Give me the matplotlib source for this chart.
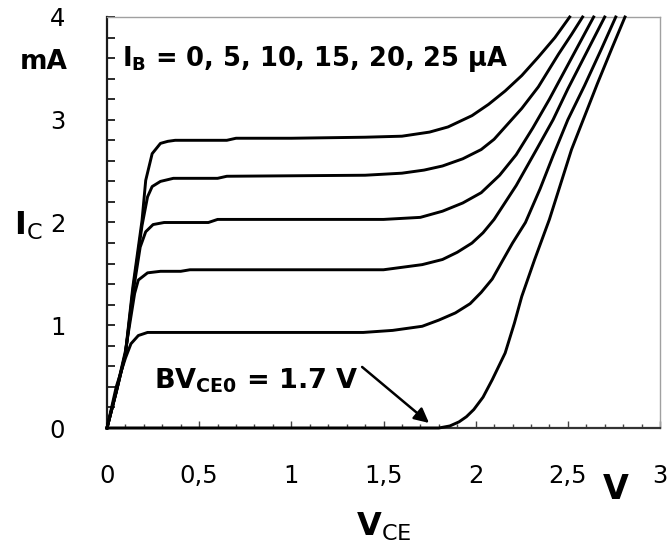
import matplotlib.pyplot as plt
from matplotlib.ticker import MultipleLocator, FixedLocator, FixedFormatter

# output characteristics I_C(V_CE), one curve per base current (uA)
ib_values = [0, 5, 10, 15, 20, 25]

vce_ib0 = [0, 1.75, 1.80, 1.86, 1.91, 1.95, 1.99, 2.04, 2.09, 2.16, 2.21, 2.25, 2.32,
           2.40, 2.46, 2.52, 2.59, 2.66, 2.74, 2.81]
ic_ib0 = [0, 0, 0.0, 0.02, 0.06, 0.11, 0.18, 0.30, 0.47, 0.73, 1.02, 1.28, 1.64,
          2.03, 2.37, 2.71, 3.03, 3.35, 3.70, 4.0]

vce_ib5 = [0, 0.05, 0.10, 0.13, 0.17, 0.22, 0.40, 1.39, 1.55, 1.71, 1.80, 1.89, 1.97,
           2.03, 2.09, 2.14, 2.20, 2.27, 2.35, 2.42, 2.50, 2.59, 2.68, 2.76]
ic_ib5 = [0, 0.40, 0.68, 0.82, 0.90, 0.93, 0.93, 0.93, 0.95, 0.99, 1.05, 1.12, 1.21,
          1.32, 1.45, 1.61, 1.80, 2.00, 2.33, 2.65, 3.00, 3.33, 3.68, 4.0]

vce_ib10 = [0, 0.05, 0.10, 0.15, 0.17, 0.22, 0.29, 0.40, 0.45, 1.50, 1.71, 1.82, 1.90,
            1.98, 2.04, 2.10, 2.22, 2.33, 2.42, 2.50, 2.60, 2.70]
ic_ib10 = [0, 0.36, 0.75, 1.31, 1.44, 1.51, 1.525, 1.525, 1.54, 1.54, 1.59, 1.64, 1.71,
           1.80, 1.90, 2.03, 2.36, 2.71, 3.00, 3.30, 3.65, 4.0]

vce_ib15 = [0, 0.05, 0.10, 0.14, 0.18, 0.21, 0.25, 0.31, 0.55, 0.60, 1.50, 1.70, 1.82,
            1.93, 2.03, 2.13, 2.22, 2.31, 2.40, 2.52, 2.64]
ic_ib15 = [0, 0.35, 0.72, 1.30, 1.76, 1.91, 1.98, 2.00, 2.00, 2.03, 2.03, 2.05, 2.11,
           2.19, 2.29, 2.46, 2.66, 2.92, 3.20, 3.60, 4.0]

vce_ib20 = [0, 0.05, 0.10, 0.14, 0.19, 0.22, 0.245, 0.29, 0.36, 0.60, 0.65, 1.40,
            1.60, 1.72, 1.82, 1.93, 2.03, 2.10, 2.16, 2.25, 2.34, 2.45, 2.52, 2.58]
ic_ib20 = [0, 0.35, 0.72, 1.33, 1.97, 2.25, 2.35, 2.40, 2.43, 2.43, 2.45, 2.46,
           2.48, 2.51, 2.55, 2.62, 2.71, 2.81, 2.93, 3.11, 3.32, 3.64, 3.83, 4.0]

vce_ib25 = [0, 0.05, 0.10, 0.14, 0.19, 0.21, 0.245, 0.29, 0.33, 0.37, 0.65, 0.70, 1.0,
            1.40, 1.60, 1.75, 1.85, 1.98, 2.07, 2.16, 2.25, 2.34, 2.43, 2.51]
ic_ib25 = [0, 0.35, 0.73, 1.37, 2.02, 2.41, 2.67, 2.77, 2.79, 2.80, 2.80, 2.82, 2.82,
           2.83, 2.84, 2.88, 2.93, 3.04, 3.15, 3.28, 3.43, 3.61, 3.80, 4.0]

x_ticks = [0, 0.5, 1, 1.5, 2, 2.5, 3]
x_tick_labels = ["0", "0,5", "1", "1,5", "2", "2,5", "3"]
y_ticks = [0, 1, 2, 3, 4]

curves = [(vce_ib0, ic_ib0), (vce_ib5, ic_ib5), (vce_ib10, ic_ib10),
          (vce_ib15, ic_ib15), (vce_ib20, ic_ib20), (vce_ib25, ic_ib25)]

fig = plt.figure(figsize=(6.72, 5.49), dpi=100)
ax = fig.add_axes([107 / 672, 121 / 549, 553 / 672, 411 / 549])

for v, i in curves:
    ax.plot(v, i, color="black", lw=2.1, solid_joinstyle="round", clip_on=False, zorder=3)

ax.set_xlim(0, 3)
ax.set_ylim(0, 4)

# frame: dark left/bottom, light grey top/right
ax.spines["left"].set_color("#1a1a1a")
ax.spines["left"].set_linewidth(1.6)
ax.spines["bottom"].set_color("#333333")
ax.spines["bottom"].set_linewidth(1.6)
for s in ["top", "right"]:
    ax.spines[s].set_color("#a0a0a0")
    ax.spines[s].set_linewidth(1.0)

ax.xaxis.set_major_locator(FixedLocator(x_ticks))
ax.xaxis.set_major_formatter(FixedFormatter(x_tick_labels))
ax.xaxis.set_minor_locator(MultipleLocator(0.1))
ax.yaxis.set_major_locator(FixedLocator(y_ticks))
ax.yaxis.set_minor_locator(MultipleLocator(0.2))

ax.tick_params(axis="x", which="major", direction="in", length=5, width=1.0,
               color="#444444", pad=26, labelsize=17.5)
ax.tick_params(axis="x", which="minor", direction="in", length=3, width=1.0, color="#444444")
ax.tick_params(axis="y", which="both", direction="in", length=6, width=1.3,
               color="#1a1a1a", pad=30, labelsize=17.5)

# axis labels / units
ax.text(-0.342, 3.56, "mA", fontsize=19, fontweight="bold", ha="center", va="center",
        clip_on=False)
ax.text(-0.505, 1.878, r"$\mathbf{I}_{\mathrm{C}}$", fontsize=23, ha="left",
        va="baseline", clip_on=False)
ax.text(2.762, -0.603, "V", fontsize=24, fontweight="bold", ha="center", va="center",
        clip_on=False)
ax.text(1.351, -1.05, r"$\mathbf{V}_{\mathrm{CE}}$", fontsize=23, ha="left",
        va="baseline", clip_on=False)

ax.text(0.081, 3.523, r"$\mathbf{I}_{\mathbf{B}}$ = 0, 5, 10, 15, 20, 25 µA",
        fontsize=18.5, fontweight="bold", ha="left", va="baseline")

ax.text(0.255, 0.389, r"$\mathbf{BV}_{\mathbf{CE0}}$ = 1.7 V", fontsize=19.5,
        fontweight="bold", ha="left", va="baseline")
ax.annotate("", xy=(1.747, 0.049), xytext=(1.384, 0.594),
            arrowprops=dict(arrowstyle="-|>", color="black", lw=1.8,
                            mutation_scale=22, shrinkA=0, shrinkB=0))

fig.savefig("out.png", dpi=100, facecolor="white")
